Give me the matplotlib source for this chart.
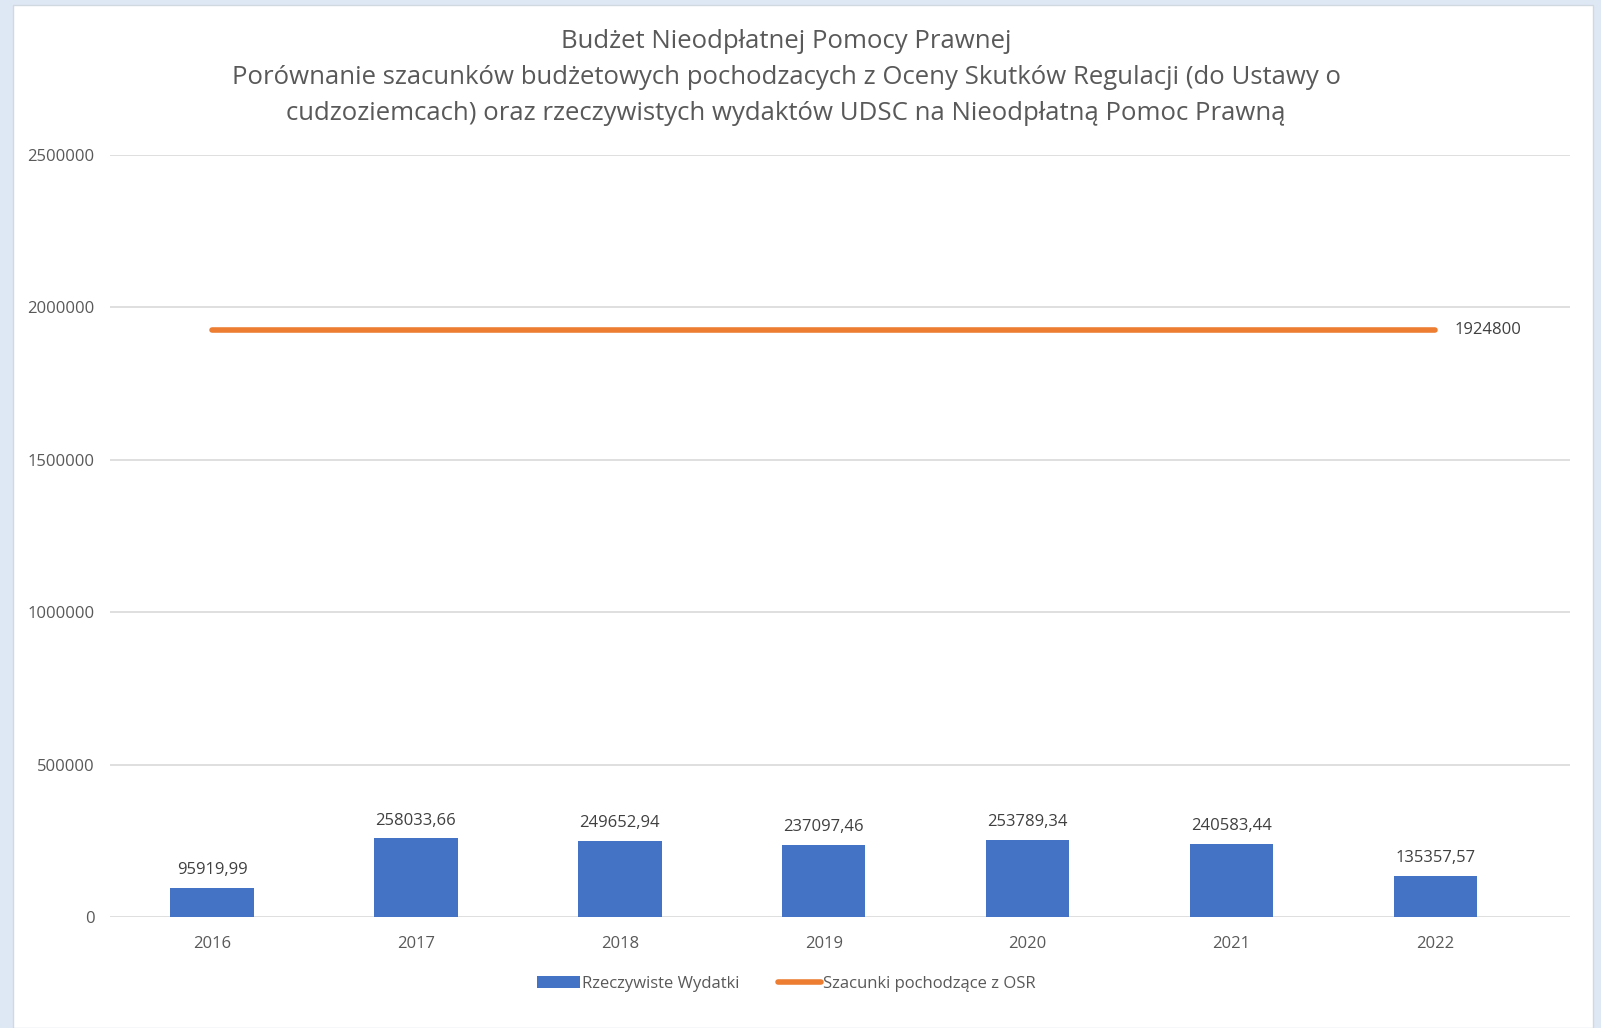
import matplotlib
matplotlib.use('Agg')
from matplotlib import pyplot as plt, patches

# Data
years = ['2016', '2017', '2018', '2019', '2020', '2021', '2022']
actual_spending = [95919.99, 258033.66, 249652.94, 237097.46, 253789.34, 240583.44, 135357.57]
osr_estimate = [1924800] * len(years)
y_ticks = [0, 500000, 1000000, 1500000, 2000000, 2500000]

title_lines = ['Budżet Nieodpłatnej Pomocy Prawnej',
               'Porównanie szacunków budżetowych pochodzacych z Oceny Skutków Regulacji (do Ustawy o',
               'cudzoziemcach) oraz rzeczywistych wydaktów UDSC na Nieodpłatną Pomoc Prawną']

TEXT = '#595959'
plt.rcParams['font.family'] = ['Open Sans', 'DejaVu Sans']

fig = plt.figure(figsize=(16.01, 10.28), dpi=100, facecolor='#dee8f4')
fig.patches.append(patches.Rectangle((13 / 1601, 0), 1580 / 1601, 1023 / 1028,
                                     transform=fig.transFigure, facecolor='white',
                                     edgecolor='#d0d8e0', linewidth=1, zorder=-1))

ax = fig.add_axes([110 / 1601, 1 - 917 / 1028, 1460 / 1601, 762 / 1028])
ax.set_facecolor('none')
ax.set_zorder(1)

x = list(range(len(years)))
bars = ax.bar(x, actual_spending, width=0.41, color='#4472C4', zorder=3,
              label='Rzeczywiste Wydatki')
line, = ax.plot(x, osr_estimate, color='#ED7D31', linewidth=4, solid_capstyle='round',
                zorder=4, label='Szacunki pochodzące z OSR')

for xi, v in zip(x, actual_spending):
    ax.annotate(f'{v:.2f}'.replace('.', ','), (xi, v), xytext=(0, 7),
                textcoords='offset points', ha='center', va='bottom',
                fontsize=12, color='#404040')
ax.annotate(f'{osr_estimate[-1]}', (x[-1], osr_estimate[-1]), xytext=(14, 0),
            textcoords='offset points', ha='left', va='center',
            fontsize=12, color='#404040')

ax.set_xlim(-0.5, 6.66)
ax.set_ylim(0, 2500000)
ax.set_yticks(y_ticks)
ax.set_yticklabels([str(t) for t in y_ticks])
ax.set_xticks(x)
ax.set_xticklabels(years)
ax.tick_params(length=0, labelsize=12, labelcolor=TEXT)
ax.tick_params(axis='y', pad=11)
ax.tick_params(axis='x', pad=14)
ax.grid(axis='y', color='#dcdcdc', linewidth=1.3, zorder=0)
ax.set_axisbelow(True)
for s in ax.spines.values():
    s.set_visible(False)

for i, t in enumerate(title_lines):
    fig.text(786 / 1601, 1 - (42 + 35.5 * i) / 1028, t, ha='center', va='center',
             fontsize=18.5, color=TEXT)

fig.legend([bars, line], ['Rzeczywiste Wydatki', 'Szacunki pochodzące z OSR'],
           loc='center', bbox_to_anchor=(786 / 1601, 1 - 984 / 1028), ncol=2,
           frameon=False, fontsize=12, labelcolor=TEXT, handlelength=2.6,
           handletextpad=0.1, columnspacing=2.3)

fig.savefig('out.png', dpi=100, facecolor=fig.get_facecolor())
